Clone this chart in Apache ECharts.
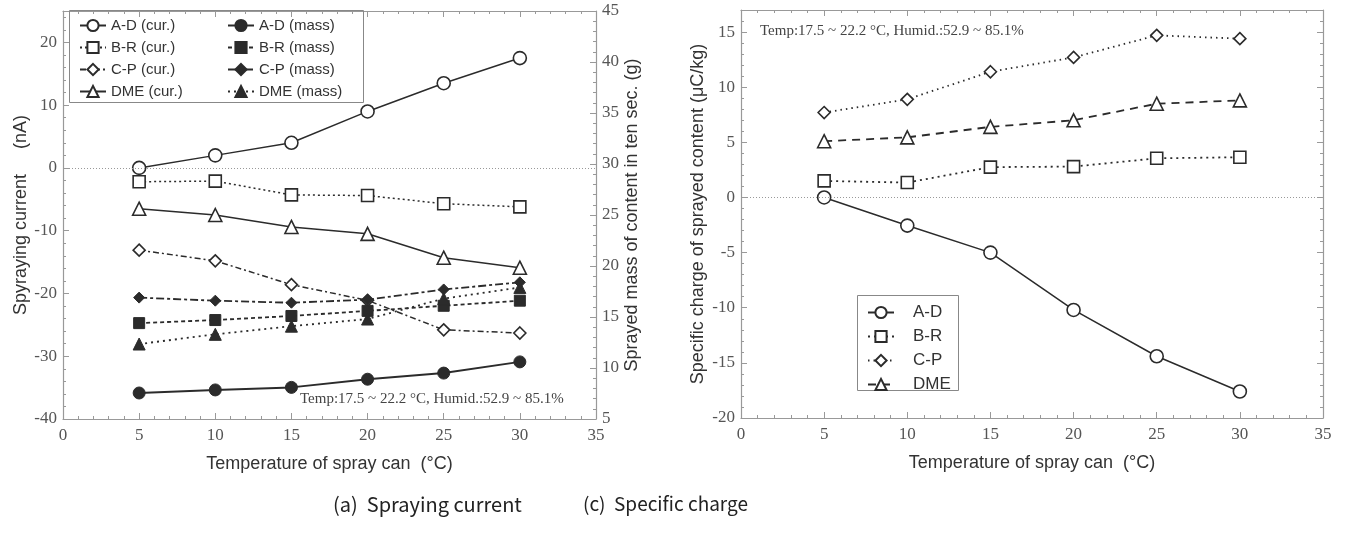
<!DOCTYPE html>
<html><head><meta charset="utf-8">
<script src="https://cdn.jsdelivr.net/npm/echarts@6/dist/echarts.min.js"></script>
<style>html,body{margin:0;padding:0;background:#fff}#c{width:1345px;height:537px}</style>
</head><body><div id="c"></div>
<script>
// ---- data ----
const temps = [5, 10, 15, 20, 25, 30];
// (a) spraying current, nA (left axis)
const adCur = [0, 2, 4, 9, 13.5, 17.5];
const brCur = [-2.2, -2.1, -4.3, -4.4, -5.7, -6.2];
const cpCur = [-13.1, -14.8, -18.6, -21.1, -25.8, -26.3];
const dmeCur = [-6.5, -7.5, -9.4, -10.5, -14.3, -15.9];
// (a) sprayed mass, g (right axis)
const adMass = [7.55, 7.85, 8.1, 8.9, 9.5, 10.6];
const brMass = [14.4, 14.7, 15.1, 15.6, 16.1, 16.6];
const cpMass = [16.9, 16.6, 16.4, 16.7, 17.7, 18.4];
const dmeMass = [12.35, 13.3, 14.1, 14.8, 16.8, 17.9];
// (c) specific charge, uC/kg
const adQ = [0, -2.55, -5.0, -10.2, -14.4, -17.6];
const brQ = [1.5, 1.35, 2.75, 2.8, 3.55, 3.65];
const cpQ = [7.7, 8.9, 11.4, 12.7, 14.7, 14.4];
const dmeQ = [5.1, 5.45, 6.4, 7.0, 8.5, 8.8];
// labels
const legA1 = ['A-D (cur.)', 'B-R (cur.)', 'C-P (cur.)', 'DME (cur.)'];
const legA2 = ['A-D (mass)', 'B-R (mass)', 'C-P (mass)', 'DME (mass)'];
const legC = ['A-D', 'B-R', 'C-P', 'DME'];
const noteText = 'Temp:17.5 ~ 22.2 °C, Humid.:52.9 ~ 85.1%';

const pts = a => temps.map((t, i) => [t, a[i]]);
const INK = '#2b2b2b';
const SERIF = 'Liberation Serif';
const SANS = 'Liberation Sans';

function ser(name, data, xi, yi, symbol, size, filled, dash, width) {
  return {
    name, type: 'line', data: pts(data), xAxisIndex: xi, yAxisIndex: yi,
    symbol, symbolSize: size, showAllSymbol: true,
    lineStyle: { color: INK, width: width || 1.5, type: dash || 'solid' },
    itemStyle: { color: filled ? INK : '#fff', borderColor: INK, borderWidth: filled ? 1 : 1.6 },
    emphasis: { disabled: true }, z: 3
  };
}
const zeroLine = {
  silent: true, symbol: ['none', 'none'], label: { show: false },
  lineStyle: { color: '#999', type: [1, 2], width: 1 }, data: [{ yAxis: 0 }]
};

const xBase = (gi, pos, labels, name) => ({
  type: 'value', gridIndex: gi, position: pos, min: 0, max: 35, interval: 5,
  axisLine: { show: true, onZero: false, lineStyle: { color: '#999', width: 1.2 } },
  axisTick: { show: true, inside: true, length: 6, lineStyle: { color: '#999' } },
  minorTick: { show: true, splitNumber: 5, length: 3, lineStyle: { color: '#999' } },
  axisLabel: { show: labels, fontFamily: SERIF, fontSize: 17, color: '#555', margin: 8 },
  splitLine: { show: false },
  name: name || '', nameLocation: 'middle', nameGap: 36,
  nameTextStyle: { fontFamily: SANS, fontSize: 18, color: '#333' }
});
const yBase = (gi, pos, min, max, itv, labels, name, gap, showMax) => ({
  type: 'value', gridIndex: gi, position: pos, min, max, interval: itv,
  axisLine: { show: true, onZero: false, lineStyle: { color: '#999', width: 1.2 } },
  axisTick: { show: true, inside: true, length: 6, lineStyle: { color: '#999' } },
  minorTick: { show: true, splitNumber: 5, length: 3, lineStyle: { color: '#999' } },
  axisLabel: { show: labels, fontFamily: SERIF, fontSize: 17, color: '#555', margin: 6, showMaxLabel: !!showMax },
  splitLine: { show: false },
  name: name || '', nameLocation: 'middle', nameGap: gap || 30, nameRotate: 90,
  nameTextStyle: { fontFamily: SANS, fontSize: 18, color: '#333' }
});

const series = [
  Object.assign(ser('A-D (cur.)', adCur, 0, 0, 'circle', 13, false), { markLine: zeroLine }),
  ser('B-R (cur.)', brCur, 0, 0, 'rect', 12, false, [2, 3]),
  ser('C-P (cur.)', cpCur, 0, 0, 'diamond', 12, false, [6, 3, 2, 3]),
  ser('DME (cur.)', dmeCur, 0, 0, 'triangle', 13, false),
  ser('A-D (mass)', adMass, 0, 1, 'circle', 12, true, 'solid', 2),
  ser('B-R (mass)', brMass, 0, 1, 'rect', 11, true, [4, 3], 1.8),
  ser('C-P (mass)', cpMass, 0, 1, 'diamond', 11, true, [8, 3, 3, 3], 1.8),
  ser('DME (mass)', dmeMass, 0, 1, 'triangle', 12, true, [2, 4], 1.8),
  Object.assign(ser('A-D', adQ, 2, 2, 'circle', 13, false), { markLine: zeroLine }),
  ser('B-R', brQ, 2, 2, 'rect', 12, false, [2, 4], 1.8),
  ser('C-P', cpQ, 2, 2, 'diamond', 12, false, [1.5, 4], 1.8),
  ser('DME', dmeQ, 2, 2, 'triangle', 13, false, [8, 6], 1.8)
];

const legStyle = { fontFamily: SANS, fontSize: 15, color: '#333' };
const option = {
  animation: false,
  backgroundColor: '#fff',
  grid: [
    { left: 63, top: 11, width: 533, height: 408 },
    { left: 741, top: 10, width: 582, height: 408 }
  ],
  xAxis: [
    xBase(0, 'bottom', true, 'Temperature of spray can  (°C)'),
    xBase(0, 'top', false),
    xBase(1, 'bottom', true, 'Temperature of spray can  (°C)'),
    xBase(1, 'top', false)
  ],
  yAxis: [
    yBase(0, 'left', -40, 25, 10, true, 'Spyraying current\u00a0\u00a0\u00a0\u00a0\u00a0(nA)', 29),
    yBase(0, 'right', 5, 45, 5, true, 'Sprayed mass of content in ten sec. (g)', 26, true),
    yBase(1, 'left', -20, 17, 5, true, 'Specific charge of sprayed content (μC/kg)', 34),
    yBase(1, 'right', -20, 17, 5, false)
  ],
  legend: [
    { data: legA1, orient: 'vertical', left: 74, top: 13, itemGap: 7, itemWidth: 26, itemHeight: 14, textStyle: legStyle, selectedMode: false },
    { data: legA2, orient: 'vertical', left: 222, top: 13, itemGap: 7, itemWidth: 26, itemHeight: 14, textStyle: legStyle, selectedMode: false },
    { data: legC, orient: 'vertical', left: 862, top: 299, itemGap: 7, itemWidth: 26, itemHeight: 14, textStyle: Object.assign({}, legStyle, { fontSize: 17, padding: [0, 0, 0, 14] }), selectedMode: false }
  ],
  graphic: [
    { type: 'rect', shape: { x: 69.5, y: 10.5, width: 294, height: 92 }, style: { fill: 'none', stroke: '#888', lineWidth: 1 }, z: 1 },
    { type: 'rect', shape: { x: 857.5, y: 295.5, width: 101, height: 95 }, style: { fill: 'none', stroke: '#888', lineWidth: 1 }, z: 1 },
    { type: 'text', left: 300, top: 392, style: { text: noteText, font: '15px "Liberation Serif"', fill: '#444' } },
    { type: 'text', left: 760, top: 24, style: { text: noteText, font: '15px "Liberation Serif"', fill: '#444' } },
    { type: 'text', left: 333, top: 494, style: { text: '(a)  Spraying current', font: '20px "Noto Sans CJK KR"', fill: '#222' } },
    { type: 'text', left: 583, top: 494, style: { text: '(c)  Specific charge', font: '19px "Noto Sans CJK KR"', fill: '#222' } }
  ],
  series
};
const chart = echarts.init(document.getElementById('c'), null, { renderer: 'canvas' });
chart.setOption(option);
</script></body></html>
